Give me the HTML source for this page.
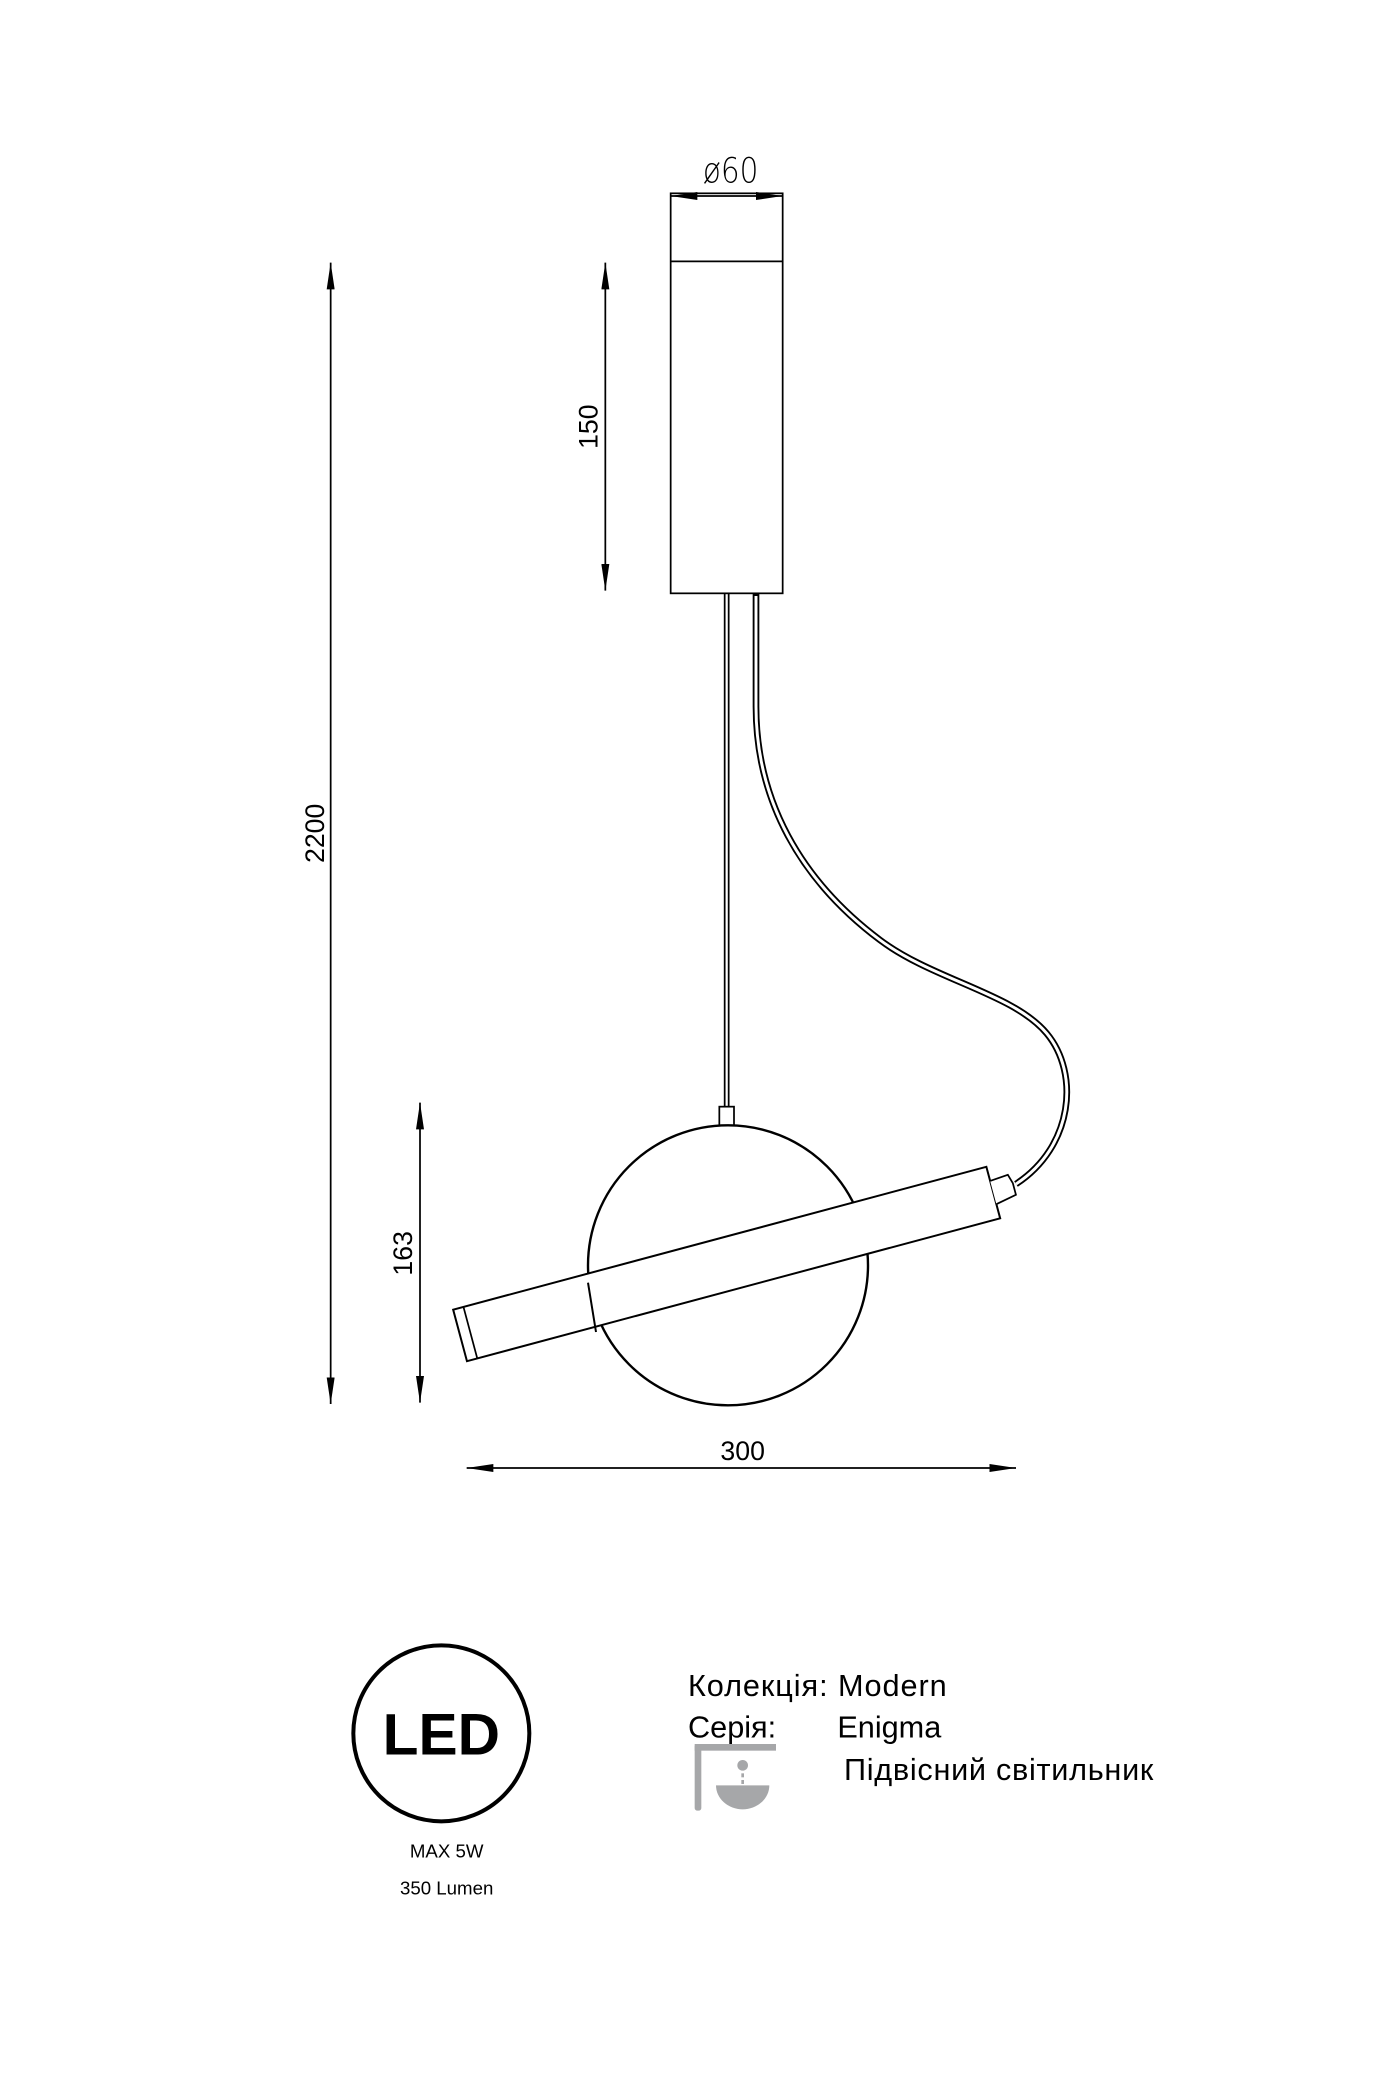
<!DOCTYPE html>
<html><head><meta charset="utf-8"><style>
html,body{margin:0;padding:0;background:#fff}
svg{display:block}
</style></head><body>
<svg width="1400" height="2100" viewBox="0 0 1050 1575" xmlns="http://www.w3.org/2000/svg">
<defs>
<marker id="a" viewBox="0 0 20 6" refX="20" refY="3" markerWidth="20" markerHeight="6" markerUnits="userSpaceOnUse" orient="auto-start-reverse"><path d="M0,0 L20,3 L0,6 Z" fill="#000"/></marker>
</defs>
<g fill="none" stroke="#000" stroke-width="1.3">
<rect x="503" y="145" width="84" height="300" fill="#fff"/>
<line x1="503" y1="196" x2="587" y2="196"/>
<line x1="503" y1="147" x2="587" y2="147" marker-start="url(#a)" marker-end="url(#a)"/>
<line x1="454" y1="197" x2="454" y2="443" marker-start="url(#a)" marker-end="url(#a)"/>
<line x1="248" y1="197" x2="248" y2="1053" marker-start="url(#a)" marker-end="url(#a)"/>
<line x1="315" y1="827" x2="315" y2="1052" marker-start="url(#a)" marker-end="url(#a)"/>
<line x1="350" y1="1101" x2="762" y2="1101" marker-start="url(#a)" marker-end="url(#a)"/>
<line x1="543.5" y1="445" x2="543.5" y2="830"/>
<line x1="546.5" y1="445" x2="546.5" y2="830"/>
<rect x="539.5" y="830" width="11" height="14" fill="#fff"/>
<line x1="536" y1="845" x2="554" y2="845" stroke-width="2.5"/>
<path d="M567,445 L567,530 C567,600 600,660 660,705 C700,735 760,745 785,775 C810,805 805,860 762,888" stroke-width="5"/>
<path d="M567,447 L567,530 C567,600 600,660 660,705 C700,735 760,745 785,775 C810,805 805,860 762,888" stroke="#fff" stroke-width="2.2"/>
<circle cx="546" cy="949" r="105" stroke-width="1.8" fill="#fff"/>
<g transform="translate(545,948) rotate(-15)">
<rect x="-207" y="-20" width="414" height="40" fill="#fff" stroke-width="1.5"/>
<line x1="-199" y1="-20" x2="-199" y2="20"/>
<path d="M207,-9 L221,-10 L223,-3 L223,6 L207,9" fill="#fff"/>
</g>
<path d="M441,962 L447,999" stroke-width="1.5"/>
</g>
<g font-family="Liberation Sans, sans-serif" fill="#000">
<text x="548" y="137" font-size="26" text-anchor="middle" style="font-family:'DejaVu Sans',sans-serif;font-weight:200" transform="translate(548,137) scale(0.85,1) translate(-548,-137)">ø60</text>
<text font-size="20" text-anchor="middle" transform="translate(448,320) rotate(-90)">150</text>
<text font-size="20" text-anchor="middle" transform="translate(243,625) rotate(-90)">2200</text>
<text font-size="20" text-anchor="middle" transform="translate(309,940) rotate(-90)">163</text>
<text x="557" y="1095" font-size="20" text-anchor="middle">300</text>
<text x="331" y="1316" font-size="44" font-weight="bold" text-anchor="middle">LED</text>
<text x="335" y="1393" font-size="14" text-anchor="middle">MAX 5W</text>
<text x="335" y="1421" font-size="14" text-anchor="middle">350 Lumen</text>
<text x="516" y="1272" font-size="23" textLength="194">Колекція: Modern</text>
<text x="516" y="1303" font-size="23">Серія:</text>
<text x="628" y="1303" font-size="23">Enigma</text>
<text x="633" y="1335" font-size="23" textLength="232">Підвісний світильник</text>
</g>
<circle cx="331" cy="1300" r="66" fill="none" stroke="#000" stroke-width="3"/>
<g fill="#a6a7a9">
<rect x="521" y="1308" width="5" height="50" rx="2"/>
<rect x="521" y="1308" width="61" height="5"/>
<circle cx="557" cy="1324" r="4"/>
<rect x="556" y="1330" width="2" height="3"/>
<rect x="556" y="1335" width="2" height="3"/>
<path d="M537,1339 L577,1339 A20,18 0 0 1 537,1339 Z"/>
</g>
</svg>
</body></html>
